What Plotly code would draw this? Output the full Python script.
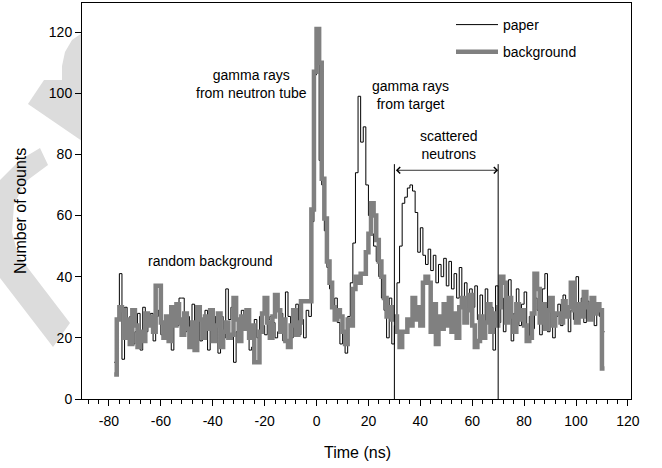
import plotly.graph_objects as go

# ---------------- data ----------------
TIME = list(range(-78, 111))  # bin starts, ns (1 ns bins)

PAPER = [
    12, 26, 41, 13, 30, 20, 27, 18, 22, 28,
    16, 30, 22, 25, 28, 19, 27, 29, 21, 25,
    20, 26, 16, 24, 24, 33, 33, 22, 27, 21,
    31, 24, 26, 19, 23, 29, 16, 24, 22, 27,
    15, 27, 20, 36, 26, 30, 12, 22, 25, 29,
    23, 29, 16, 17, 26, 20, 27, 24, 21, 26,
    27, 25, 20, 22, 28, 19, 35, 27, 20, 24,
    31, 21, 26, 20, 29, 27,
    58, 106, 120, 78, 70, 55, 43,
    36, 30, 33, 25, 18, 22, 15, 27, 38, 51,
    74, 99, 84, 89, 70, 60, 54, 50, 45, 40, 33, 29, 20, 33, 18,
    24, 38, 50, 64, 66, 69, 70, 68, 61, 48,
    56, 47, 44, 49, 42, 47, 38, 44, 40, 46,
    37, 45, 36, 41, 33, 43, 31, 38, 29, 36,
    30, 37, 26, 34, 24, 36, 28, 30, 16, 37,
    25, 33, 22, 30, 39, 19, 28, 36, 24, 31,
    35, 20, 27, 23, 33, 29, 21, 36, 41, 22,
    30, 20, 27, 31, 24, 34, 30, 22, 29, 26,
    40, 28, 33, 25, 32, 27, 30, 24, 31, 27, 22,
]

BACKGROUND = [
    8, 26, 30, 29, 20, 26, 18, 29, 24, 17,
    22, 19, 28, 24, 27, 22, 37, 37, 25, 20,
    27, 19, 30, 24, 31, 26, 21, 28, 23, 17,
    25, 16, 30, 26, 20, 27, 23, 29, 19, 24,
    28, 17, 22, 25, 20, 21, 33, 26, 19, 27,
    23, 29, 20, 24, 12, 12, 22, 28, 33, 25,
    20, 27, 34, 29, 22, 26, 19, 17, 24, 29,
    21, 25, 32, 32, 32, 32,
    62, 107, 121, 110, 72, 59, 45,
    38, 30, 26, 29, 27, 22, 18, 26, 24, 36,
    40, 38, 41, 41, 48, 54, 64, 60, 52, 45, 40, 33, 27, 30, 26,
    27, 22, 17, 22, 22, 26, 24, 33, 26, 30,
    24, 38, 40, 38, 22, 31, 18, 27, 23, 31,
    24, 33, 22, 28, 20, 30, 33, 25, 29, 34,
    24, 17, 19, 27, 20, 25, 31, 22, 28, 24,
    30, 40, 38, 25, 33, 27, 22, 31, 26, 29,
    24, 19, 20, 28, 41, 36, 25, 31, 23, 29,
    33, 24, 28, 28, 25, 32, 27, 30, 38, 29,
    25, 31, 27, 35, 30, 26, 33, 28, 31, 29, 10,
]

X_TICKS = [-80, -60, -40, -20, 0, 20, 40, 60, 80, 100, 120]
X_TICK_TEXT = ["-80", "-60", "-40", "-20", "0", "20", "40", "60", "80", "100", "120"]
Y_TICKS = [0, 20, 40, 60, 80, 100, 120]
WINDOW = [30, 70]  # scattered-neutron window, ns

# ---------------- figure ----------------
W, H = 662, 468
ML, MR, MT, MB = 82, 31, 3, 69
PW, PH = W - ML - MR, H - MT - MB
FONT = "Liberation Sans, Arial, sans-serif"


def px(xp, yp):
    """pixel -> paper coordinates"""
    return (xp - ML) / PW, (H - MB - yp) / PH


def poly(points):
    parts = []
    for i, (a, b) in enumerate(points):
        u, v = px(a, b)
        parts.append(("M" if i == 0 else "L") + f"{u:.4f},{v:.4f}")
    return " ".join(parts) + " Z"


x_edges = TIME + [TIME[-1] + 1]

fig = go.Figure()
fig.add_trace(go.Scatter(
    x=x_edges, y=PAPER + [PAPER[-1]], mode="lines", name="paper",
    line=dict(color="black", width=1, shape="hv"), legendgroup="a",
))
fig.add_trace(go.Scatter(
    x=x_edges, y=BACKGROUND + [BACKGROUND[-1]], mode="lines", name="background",
    line=dict(color="#808080", width=4.5, shape="hv"), legendgroup="b",
))

shapes = []
# faint watermark pieces left of the plot
wm = "#dcdcdc"
shapes.append(dict(type="path", xref="paper", yref="paper", layer="below",
                   path=poly([(82, 33), (72, 40), (65, 52), (62, 66), (62, 80), (44, 80),
                              (28, 104), (82, 141)]),
                   fillcolor=wm, line=dict(width=0)))
shapes.append(dict(type="path", xref="paper", yref="paper", layer="below",
                   path=poly([(40, 148), (20, 160), (0, 180), (0, 278), (53, 347), (70, 323),
                              (18, 255), (12, 232), (14, 205), (25, 182), (48, 165)]),
                   fillcolor=wm, line=dict(width=0)))
# window lines
for xv in WINDOW:
    shapes.append(dict(type="line", xref="x", yref="y", x0=xv, x1=xv, y0=0, y1=76.8,
                       line=dict(color="black", width=1)))

annotations = [
    dict(x=-25.2, y=103, text="gamma rays<br>from neutron tube", showarrow=False,
         font=dict(size=14, color="black", family=FONT)),
    dict(x=36.1, y=99.5, text="gamma rays<br>from target", showarrow=False,
         font=dict(size=14, color="black", family=FONT)),
    dict(x=51.0, y=83, text="scattered<br>neutrons", showarrow=False,
         font=dict(size=14, color="black", family=FONT)),
    dict(x=-41, y=45, text="random background", showarrow=False,
         font=dict(size=14, color="black", family=FONT)),
    dict(x=WINDOW[1], y=74.8, ax=WINDOW[0], ay=74.8, xref="x", yref="y", axref="x", ayref="y",
         text="", showarrow=True, arrowhead=4, startarrowhead=4, arrowside="end+start",
         arrowsize=1.6, arrowwidth=0.8, arrowcolor="black", standoff=0, startstandoff=0),
    dict(x=(20 - ML) / PW, y=(H - MB - 211) / PH, xref="paper", yref="paper",
         xanchor="center", yanchor="middle",
         text="Number of counts", textangle=-90, showarrow=False,
         font=dict(size=16, color="black", family=FONT)),
    dict(x=(357 - ML) / PW, y=(H - MB - 453) / PH, xref="paper", yref="paper",
         xanchor="center", yanchor="middle",
         text="Time (ns)", showarrow=False,
         font=dict(size=16, color="black", family=FONT)),
]

fig.update_layout(
    width=W, height=H,
    margin=dict(l=ML, r=MR, t=MT, b=MB, pad=0),
    paper_bgcolor="white", plot_bgcolor="white",
    font=dict(family=FONT, size=14, color="black"),
    shapes=shapes, annotations=annotations,
    showlegend=True,
    legend=dict(x=(451 - ML) / PW, y=(H - MB - 9) / PH, xanchor="left", yanchor="top",
                bgcolor="rgba(0,0,0,0)", font=dict(size=14, family=FONT),
                tracegroupgap=6, itemwidth=42),
    xaxis=dict(range=[-90.4, 121.2], tickvals=X_TICKS, ticktext=X_TICK_TEXT,
               ticks="outside", ticklen=6, ticklabelstandoff=3,
               tickcolor="black", showline=True, linecolor="black", linewidth=1,
               mirror=True, showgrid=False, zeroline=False,
               tickfont=dict(size=14, family=FONT),
               minor=dict(dtick=4, tick0=0, ticks="outside", ticklen=4, tickcolor="black",
                          showgrid=False)),
    yaxis=dict(range=[0, 129.5], tickvals=Y_TICKS, ticks="outside", ticklen=6,
               tickcolor="black", showline=True, linecolor="black", linewidth=1,
               mirror=True, showgrid=False, zeroline=False,
               tickfont=dict(size=14, family=FONT)),
)

fig.write_html("out.html")
